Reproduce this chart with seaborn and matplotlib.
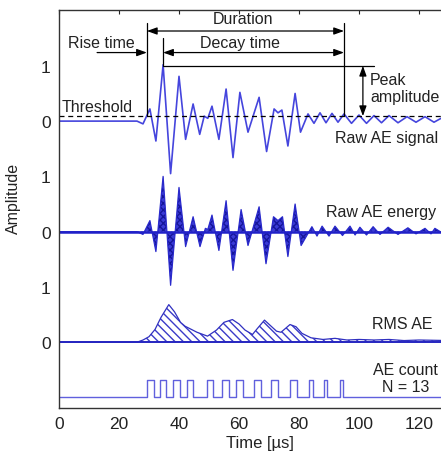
import numpy as np
import pandas as pd
import seaborn as sns
import matplotlib.pyplot as plt

# raw AE signal (extrema), time in microseconds
sig_t = [0, 26, 28, 30.3, 32.3, 34.7, 37.2, 40, 42.2, 44.7, 46.9, 48.4, 49.6, 51, 53.3,
         55.7, 58, 60.3, 63, 66.7, 69.2, 71.7, 73, 74.3, 76.3, 78.7, 80.5, 83, 85, 87,
         89, 91, 93, 95, 97.5, 100, 102.5, 105, 107.5, 110, 113, 116, 119, 122, 125,
         128, 131, 134, 137, 140, 144, 150]
sig_v = [0, 0, -0.05, 0.22, -0.36, 1.02, -0.95, 0.81, -0.33, 0.31, -0.24, 0.09, 0.05, 0.27, -0.33,
         0.58, -0.66, 0.52, -0.2, 0.43, -0.55, 0.22, 0.15, 0.2, -0.45, 0.5, -0.2, 0.13, -0.04, 0.15,
         -0.03, 0.14, -0.02, 0.13, -0.04, 0.11, -0.04, 0.1, -0.03, 0.1, -0.03, 0.08, -0.02, 0.08, -0.02,
         0.07, -0.01, 0.06, 0.0, 0.05, 0.0, 0.03]

# raw AE energy
en_t = [0, 26, 28, 30.3, 32.3, 34.7, 37.2, 40, 42.2, 44.7, 47, 48.8, 49.6, 51, 53.3,
        55.7, 58, 60.7, 63, 66.7, 69, 71.5, 73, 74.5, 76.3, 78.7, 80.7, 84.3, 86, 87.7,
        90, 92, 94.5, 97, 98.7, 100.3, 102.5, 104.7, 107, 109.7, 113, 116.3, 119, 122,
        124, 125.3, 128, 131, 134, 138, 142, 150]
en_v = [0, 0, -0.05, 0.2, -0.36, 1.0, -0.97, 0.8, -0.27, 0.27, -0.27, 0.06, 0.04, 0.3, -0.34,
        0.56, -0.7, 0.4, -0.25, 0.45, -0.58, 0.27, 0.2, 0.27, -0.45, 0.5, -0.25, 0.09, -0.08, 0.1,
        -0.08, 0.1, -0.07, 0.1, -0.06, 0.08, -0.06, 0.09, -0.05, 0.08, -0.05, 0.07, -0.04, 0.06,
        -0.04, 0.06, -0.03, 0.04, -0.02, 0.03, -0.01, 0.01]

# RMS AE envelope
rms_t = [0, 26, 28, 30, 32, 34, 36.6, 38.5, 40.5, 42, 46, 49.5, 52.5, 55, 57.8, 60, 62,
         64.5, 66, 68.5, 70.5, 72.5, 74, 77, 79, 81, 84, 88, 92, 96, 100, 105, 110, 115,
         120, 130, 150]
rms_v = [0, 0, 0.04, 0.1, 0.23, 0.45, 0.68, 0.55, 0.36, 0.29, 0.18, 0.11, 0.22, 0.36, 0.41,
         0.33, 0.22, 0.14, 0.24, 0.4, 0.3, 0.2, 0.18, 0.32, 0.28, 0.16, 0.08, 0.05, 0.07, 0.04,
         0.05, 0.04, 0.05, 0.03, 0.04, 0.03, 0.02]

# AE counts: pulse start / end times (13 pulses)
pulse_on = [29.3, 33.5, 38.0, 42.5, 49.3, 54.3, 59.0, 65.0, 70.5, 77.0, 83.3, 88.3, 93.7]
pulse_off = [31.5, 35.8, 40.3, 44.5, 51.3, 56.5, 61.3, 67.3, 73.0, 79.3, 84.5, 89.3, 94.7]

threshold = 0.09
t_rise, t_peak, t_end = 29.3, 34.7, 95.0
offsets = {"signal": 0, "energy": -2, "rms": -4, "count": -5}
pulse_h = 0.31

ytick_pos = [-5, -4, -3, -2, -1, 0, 1]
ytick_lab = ["", "0", "1", "0", "1", "0", "1"]
xticks = [0, 20, 40, 60, 80, 100, 120, 140]

sns.set_theme(style="white")
plt.rcParams["font.family"] = ["Liberation Sans", "DejaVu Sans"]

fig = plt.figure(figsize=(4.41, 4.52), dpi=100)
ax = fig.add_axes([59 / 441, 43 / 452, 450 / 441, 398 / 452])

sig = pd.DataFrame({"t": sig_t, "v": np.array(sig_v) + offsets["signal"]})
sns.lineplot(data=sig, x="t", y="v", ax=ax, color="#4545dd", lw=1.2)

en = pd.DataFrame({"t": en_t, "v": np.array(en_v) + offsets["energy"]})
ax.fill_between(en["t"], offsets["energy"], en["v"], facecolor="#3a3ad6",
                edgecolor="#15159a", hatch="xxxxx", linewidth=0)
sns.lineplot(data=en, x="t", y="v", ax=ax, color="#2a2acc", lw=0.9)
ax.axhline(offsets["energy"], color="#2020c8", lw=1.8)

rms = pd.DataFrame({"t": rms_t, "v": np.array(rms_v) + offsets["rms"]})
ax.fill_between(rms["t"], offsets["rms"], rms["v"], facecolor="white",
                edgecolor="#3a3ac8", hatch="\\\\\\\\", linewidth=0)
sns.lineplot(data=rms, x="t", y="v", ax=ax, color="#3030c0", lw=0.9)
ax.axhline(offsets["rms"], color="#2525c0", lw=1.4)

# step train for counts
cx, cy = [0], [0]
for a, b in zip(pulse_on, pulse_off):
    cx += [a, b]
    cy += [pulse_h, 0]
cx.append(150)
cy.append(0)
cnt = pd.DataFrame({"t": cx, "v": np.array(cy) + offsets["count"]})
sns.lineplot(data=cnt, x="t", y="v", ax=ax, color="#6060dd", lw=1.0,
             drawstyle="steps-post")

# threshold and annotations
ax.axhline(threshold, color="black", lw=0.9, ls=(0, (4, 3)))
k = dict(color="black", lw=0.9)
ax.plot([t_rise, t_rise], [threshold, 1.77], **k)
ax.plot([t_end, t_end], [threshold, 1.77], **k)
ax.plot([t_peak, t_peak], [1.02, 1.5], **k)
ax.plot([t_peak, 105], [1.0, 1.0], **k)
head = dict(arrowstyle="-|>,head_length=0.5,head_width=0.18", color="black", lw=0.9,
            shrinkA=0, shrinkB=0)
both = dict(arrowstyle="<|-|>,head_length=0.5,head_width=0.18", color="black", lw=0.9,
            shrinkA=0, shrinkB=0)
ax.annotate("", xy=(t_end, 1.63), xytext=(t_rise, 1.63), arrowprops=both)
ax.annotate("", xy=(t_end, 1.24), xytext=(t_peak, 1.24), arrowprops=both)
ax.annotate("", xy=(t_rise, 1.24), xytext=(12.7, 1.24), arrowprops=head)
ax.annotate("", xy=(101.3, 1.0), xytext=(101.3, threshold), arrowprops=both)

fs = 11.5
tc = "#222222"
ax.text(61.3, 1.85, "Duration", ha="center", va="center", fontsize=fs, color=tc)
ax.text(60.3, 1.42, "Decay time", ha="center", va="center", fontsize=fs, color=tc)
ax.text(3, 1.42, "Rise time", ha="left", va="center", fontsize=fs, color=tc)
ax.text(0.8, 0.26, "Threshold", ha="left", va="center", fontsize=fs, color=tc)
ax.text(103.7, 0.76, "Peak", ha="left", va="center", fontsize=fs, color=tc)
ax.text(103.7, 0.45, "amplitude", ha="left", va="center", fontsize=fs, color=tc)
ax.text(92, -0.29, "Raw AE signal", ha="left", va="center", fontsize=fs, color=tc)
ax.text(89, -1.63, "Raw AE energy", ha="left", va="center", fontsize=fs, color=tc)
ax.text(104.3, -3.67, "RMS AE", ha="left", va="center", fontsize=fs, color=tc)
ax.text(104.7, -4.49, "AE count", ha="left", va="center", fontsize=fs, color=tc)
ax.text(107.7, -4.8, "N = 13", ha="left", va="center", fontsize=fs, color=tc)

ax.set_xlim(0, 150)
ax.set_ylim(-5.19, 2.01)
ax.set_xticks(xticks)
ax.set_yticks(ytick_pos)
ax.set_yticklabels(ytick_lab)
ax.tick_params(direction="in", length=3, width=0.8, top=True, right=False,
               labelsize=12.5, colors="#222222", pad=6)
for s in ax.spines.values():
    s.set_color("#333333")
    s.set_linewidth(1.0)
ax.set_xlabel("Time [µs]", fontsize=12, color=tc)
ax.xaxis.set_label_coords(0.447, -0.068)
ax.set_ylabel("Amplitude", fontsize=11.5, color=tc)
ax.yaxis.set_label_coords(-0.085, 0.53)

fig.savefig("out.png", dpi=100)
